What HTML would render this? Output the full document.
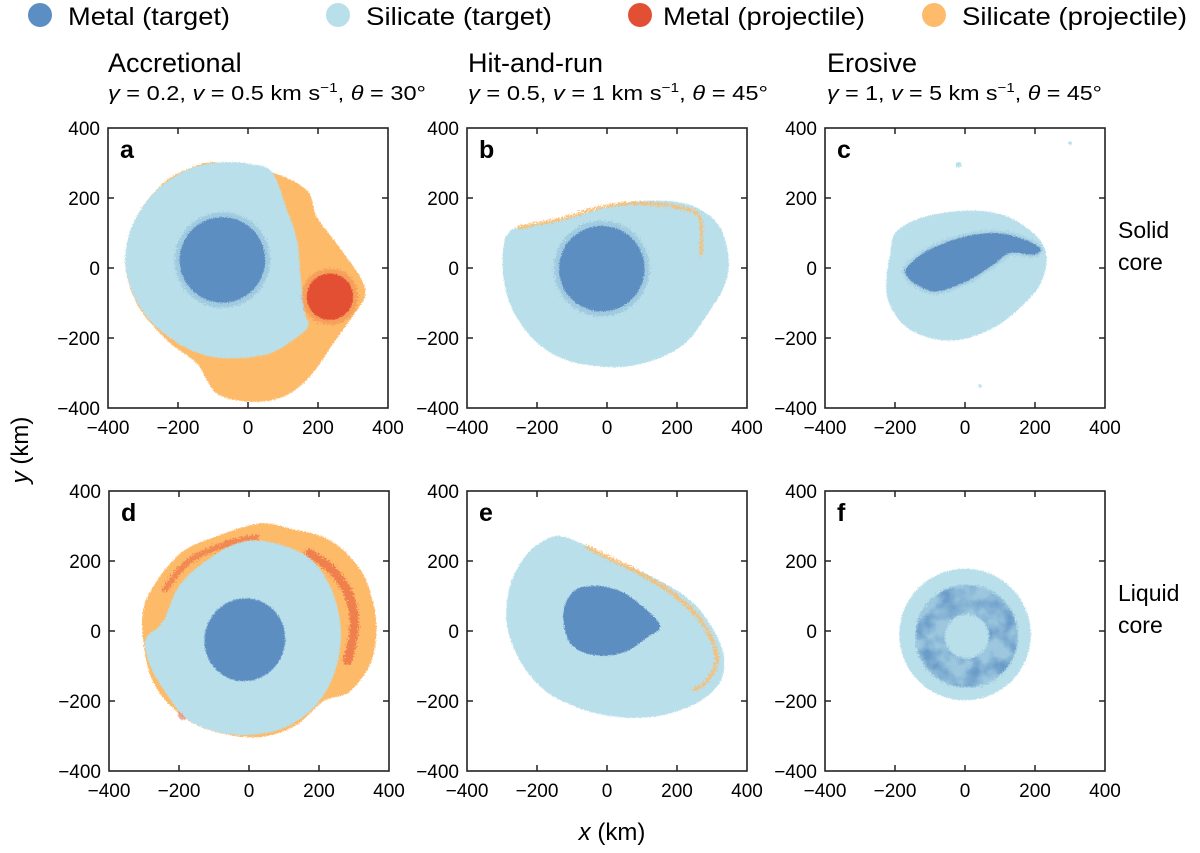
<!DOCTYPE html>
<html><head><meta charset="utf-8"><style>
html,body{margin:0;padding:0;background:#fff}
svg{display:block;font-family:"Liberation Sans",Arial,sans-serif}
</style></head><body>
<svg id="fig" width="1200" height="853" viewBox="0 0 1200 853">
<defs>
<filter id="rough" x="-10%" y="-10%" width="120%" height="120%">
<feTurbulence type="fractalNoise" baseFrequency="0.9" numOctaves="2" seed="3" result="n"/>
<feDisplacementMap in="SourceGraphic" in2="n" scale="4" xChannelSelector="R" yChannelSelector="G"/>
</filter>
<filter id="grain" x="-20%" y="-20%" width="140%" height="140%">
<feTurbulence type="fractalNoise" baseFrequency="0.6" numOctaves="2" seed="7" result="n"/>
<feDisplacementMap in="SourceGraphic" in2="n" scale="9" xChannelSelector="R" yChannelSelector="G"/>
</filter>
<filter id="patchy" x="-20%" y="-20%" width="140%" height="140%">
<feTurbulence type="fractalNoise" baseFrequency="0.05" numOctaves="3" seed="11" result="t"/>
<feColorMatrix in="t" type="matrix" values="0 0 0 0 0  0 0 0 0 0  0 0 0 0 0  0 0 0 2.6 -1.0" result="mask"/>
<feComposite in="SourceGraphic" in2="mask" operator="in" result="c"/>
<feTurbulence type="fractalNoise" baseFrequency="0.8" numOctaves="1" seed="5" result="n"/>
<feDisplacementMap in="c" in2="n" scale="5" xChannelSelector="R" yChannelSelector="G"/>
</filter>
</defs>
<g>
<g><circle cx="40" cy="15" r="12" fill="#5b8ec2"/><text x="68" y="25" font-size="25" textLength="162" lengthAdjust="spacingAndGlyphs">Metal (target)</text></g>
<g><circle cx="338" cy="15" r="12" fill="#b8dfea"/><text x="366" y="25" font-size="25" textLength="186" lengthAdjust="spacingAndGlyphs">Silicate (target)</text></g>
<g><circle cx="640" cy="15" r="12" fill="#e34f33"/><text x="663" y="25" font-size="25" textLength="202" lengthAdjust="spacingAndGlyphs">Metal (projectile)</text></g>
<g><circle cx="934" cy="15" r="12" fill="#fdbb6b"/><text x="962" y="25" font-size="25" textLength="225" lengthAdjust="spacingAndGlyphs">Silicate (projectile)</text></g>
</g>
<g>
<text x="108" y="72" font-size="27">Accretional</text>
<text x="108" y="100" font-size="20" textLength="318" lengthAdjust="spacingAndGlyphs"><tspan font-style="italic">γ</tspan> = 0.2, <tspan font-style="italic">v</tspan> = 0.5 km s<tspan font-size="13" dy="-8">−1</tspan><tspan dy="8">, </tspan><tspan font-style="italic">θ</tspan> = 30°</text>
<text x="468" y="72" font-size="27">Hit-and-run</text>
<text x="468" y="100" font-size="20" textLength="300" lengthAdjust="spacingAndGlyphs"><tspan font-style="italic">γ</tspan> = 0.5, <tspan font-style="italic">v</tspan> = 1 km s<tspan font-size="13" dy="-8">−1</tspan><tspan dy="8">, </tspan><tspan font-style="italic">θ</tspan> = 45°</text>
<text x="827" y="72" font-size="27">Erosive</text>
<text x="827" y="100" font-size="20" textLength="275" lengthAdjust="spacingAndGlyphs"><tspan font-style="italic">γ</tspan> = 1, <tspan font-style="italic">v</tspan> = 5 km s<tspan font-size="13" dy="-8">−1</tspan><tspan dy="8">, </tspan><tspan font-style="italic">θ</tspan> = 45°</text>
</g>
<g>
<text x="1118" y="238" font-size="23"><tspan x="1118">Solid</tspan><tspan x="1118" dy="32">core</tspan></text>
<text x="1118" y="601" font-size="23"><tspan x="1118">Liquid</tspan><tspan x="1118" dy="32">core</tspan></text>
</g>
<text transform="translate(28,450) rotate(-90)" text-anchor="middle" font-size="24"><tspan font-style="italic">y</tspan> (km)</text>
<text x="612" y="840" text-anchor="middle" font-size="24"><tspan font-style="italic">x</tspan> (km)</text>
<g id="panels"></g>
</svg>
<script>
// ---- data (km coordinates) ----
const tickValues = [-400, -200, 0, 200, 400];
const tickLabels = ["−400", "−200", "0", "200", "400"];
const panelIds = ["a", "b", "c", "d", "e", "f"];

const aSilProj = [[-166,285],[-90,302],[63,275],[167,223],[196,147],[253,70],[320,-25],[334,-82],[291,-149],[244,-215],[177,-310],[101,-368],[6,-382],[-90,-358],[-147,-272],[-232,-206],[-318,-101],[-351,23],[-318,147],[-242,242]];
const aSilTarg = [[68,275],[110,170],[140,80],[150,-20],[160,-120],[172,-165],[130,-205],[60,-245],[-30,-258],[-120,-250],[-200,-215],[-280,-150],[-330,-70],[-351,20],[-335,110],[-290,190],[-220,255],[-140,292],[-70,302],[0,298]];
const aMetTarg = [-73, 23, 128];
const aMetProj = [234, -82, 72];

const bSilTarg = [[-252,116],[-133,138],[0,176],[86,190],[190,190],[267,167],[324,114],[348,19],[333,-57],[286,-133],[229,-210],[152,-257],[57,-281],[-19,-281],[-105,-267],[-181,-229],[-238,-171],[-276,-105],[-297,-19],[-295,67],[-281,100]];
const bMetTarg = [-15, -2, 128];
const bStreak = [[-252,116],[-133,140],[0,178],[120,184],[220,170],[262,150],[270,100],[268,40]];

const cSilTarg = [[-195,105],[-110,148],[14,164],[119,148],[205,90],[233,29],[214,-48],[157,-114],[81,-171],[-14,-205],[-100,-200],[-176,-162],[-219,-95],[-224,-29],[-214,38]];
const cMetTarg = [[-167,0],[-110,48],[-14,86],[81,100],[157,86],[214,57],[195,38],[129,43],[81,10],[5,-38],[-81,-67],[-138,-48],[-165,-24]];
const cBlobs = [[-19,295,8],[300,357,5],[43,-338,5]];

const dSilProj = [[-303,55],[-265,141],[-189,227],[-84,274],[31,307],[116,293],[230,260],[316,179],[354,84],[364,-11],[345,-97],[288,-173],[211,-202],[135,-269],[40,-302],[-55,-297],[-150,-269],[-227,-211],[-274,-145],[-298,-59]];
const dSilTarg = [[-295,-23],[-246,27],[-198,131],[-112,208],[-17,255],[78,250],[173,208],[230,131],[259,36],[259,-59],[230,-154],[173,-230],[97,-278],[2,-297],[-93,-288],[-179,-250],[-240,-173],[-283,-97]];
const dMetTarg = [-12, -25, 115, 119];
const dRedRight = [[173,222],[240,172],[290,92],[300,4],[282,-85]];
const dRedLeft = [[-240,120],[-170,200],[-60,250],[21,268]];
const dRedDot = [-189, -240, 14];

const eSilTarg = [[-133,271],[-57,243],[10,205],[114,162],[229,95],[295,19],[333,-67],[324,-143],[267,-200],[171,-238],[76,-248],[-19,-238],[-105,-210],[-181,-167],[-248,-86],[-286,19],[-276,133],[-229,219],[-181,257]];
const eMetTarg = [[-124,57],[-95,114],[-38,129],[38,114],[105,67],[152,14],[114,-19],[57,-57],[-10,-71],[-76,-57],[-114,-19]];
const eStreak = [[-57,240],[10,207],[114,154],[200,97],[276,19],[314,-76],[286,-143],[248,-167]];

const fSilTarg = [0, -10, 188];
const fRing = [5, -15, 105];

// ---- layout ----
const origins = {a:[108,128], b:[467,128], c:[825,128], d:[109,491], e:[467,491], f:[825,491]};
const K = 0.35;
const COL = {mt:"#5b8ec2", st:"#b8dfea", mp:"#e34f33", sp:"#fdbb6b"};
const NS = "http://www.w3.org/2000/svg";
const root = document.getElementById("panels");

function mk(tag, attrs, parent){
  const e = document.createElementNS(NS, tag);
  for (const k in attrs) e.setAttribute(k, attrs[k]);
  parent.appendChild(e);
  return e;
}
function sx(id, v){ return origins[id][0] + (v + 400) * K; }
function sy(id, v){ return origins[id][1] + (400 - v) * K; }

function smoothPath(id, pts, closed){
  const P = pts.map(p => [sx(id,p[0]), sy(id,p[1])]);
  const n = P.length;
  let d = "M" + P[0][0].toFixed(1) + "," + P[0][1].toFixed(1);
  const last = closed ? n : n - 1;
  for (let i = 0; i < last; i++){
    const p0 = P[(i - 1 + n) % n], p1 = P[i], p2 = P[(i + 1) % n], p3 = P[(i + 2) % n];
    const q0 = (!closed && i === 0) ? p1 : p0;
    const q3 = (!closed && i + 2 >= n) ? p2 : p3;
    const c1 = [p1[0] + (p2[0] - q0[0]) / 6, p1[1] + (p2[1] - q0[1]) / 6];
    const c2 = [p2[0] - (q3[0] - p1[0]) / 6, p2[1] - (q3[1] - p1[1]) / 6];
    d += " C" + c1.map(v=>v.toFixed(1)).join(",") + " " + c2.map(v=>v.toFixed(1)).join(",") + " " + p2[0].toFixed(1) + "," + p2[1].toFixed(1);
  }
  if (closed) d += "Z";
  return d;
}

function area(g, id, pts, fill, name){
  const e = mk("path", {d: smoothPath(id, pts, true), fill: fill, filter: "url(#rough)"}, g);
  
  
  return e;
}
function streak(g, id, pts, color, w, op, name){
  const e = mk("path", {d: smoothPath(id, pts, false), fill: "none", stroke: color, "stroke-width": w, "stroke-opacity": op, "stroke-linecap": "round", filter: "url(#grain)"}, g);
  
  
  return e;
}
function blob(g, id, c, color, name, halo){
  if (halo){
    const h = mk("circle", {cx: sx(id,c[0]), cy: sy(id,c[1]), r: c[2]*K + 3, fill: color, opacity: 0.25, filter: "url(#grain)"}, g);
    
    
  }
  const e = mk("circle", {cx: sx(id,c[0]), cy: sy(id,c[1]), r: c[2]*K - (halo ? 2 : 0), fill: color, filter: "url(#rough)"}, g);
  
  
  return e;
}

function axes(g, id){
  const [x0, y0] = origins[id];
  const W = 800 * K;
  tickValues.forEach((v, i) => {
    if (Math.abs(v) < 400){
      const X = sx(id, v), Y = sy(id, v);
      mk("line", {x1:X, y1:y0+W, x2:X, y2:y0+W-6, stroke:"#222", "stroke-width":1.5}, g);
      mk("line", {x1:X, y1:y0, x2:X, y2:y0+6, stroke:"#222", "stroke-width":1.5}, g);
      mk("line", {x1:x0, y1:Y, x2:x0+6, y2:Y, stroke:"#222", "stroke-width":1.5}, g);
      mk("line", {x1:x0+W, y1:Y, x2:x0+W-6, y2:Y, stroke:"#222", "stroke-width":1.5}, g);
    }
    const yl = mk("text", {x: x0 - 8, y: sy(id, v) + 7, "text-anchor": "end", "font-size": 19}, g);
    yl.textContent = tickLabels[i];
    
    
    const xl = mk("text", {x: sx(id, v), y: y0 + W + 26, "text-anchor": "middle", "font-size": 19}, g);
    xl.textContent = tickLabels[i];
    
    
  });
  const box = mk("rect", {x:x0, y:y0, width:W, height:W, fill:"none", stroke:"#222", "stroke-width":1.6}, g);
  
  
  const lab = mk("text", {x: x0 + 12, y: y0 + 30, "font-size": 25, "font-weight": "bold"}, g);
  lab.textContent = id;
  
  
}

panelIds.forEach(id => {
  const g = mk("g", {}, root);
  
  
  const [x0, y0] = origins[id];
  const clipId = "clip-" + id;
  const cp = mk("clipPath", {id: clipId}, g);
  mk("rect", {x:x0, y:y0, width:800*K, height:800*K}, cp);
  const m = mk("g", {"clip-path": "url(#" + clipId + ")"}, g);
  
  

  if (id === "a"){
    area(m, id, aSilProj, COL.sp, "silicate-projectile");
    area(m, id, aSilTarg, COL.st, "silicate-target");
    blob(m, id, aMetTarg, COL.mt, "metal-target", true);
    blob(m, id, aMetProj, COL.mp, "metal-projectile", true);
  } else if (id === "b"){
    area(m, id, bSilTarg, COL.st, "silicate-target");
    streak(m, id, bStreak, COL.sp, 3, 0.9, "silicate-projectile-streak");
    blob(m, id, bMetTarg, COL.mt, "metal-target", true);
  } else if (id === "c"){
    area(m, id, cSilTarg, COL.st, "silicate-target");
    const h = mk("path", {d: smoothPath(id, cMetTarg, true), fill: COL.mt, opacity: 0.3, filter: "url(#grain)", stroke: COL.mt, "stroke-width": 6, "stroke-opacity": 0.5}, m);
    
    
    area(m, id, cMetTarg, COL.mt, "metal-target");
    cBlobs.forEach(b => blob(m, id, b, COL.st, "silicate-fragment", false));
  } else if (id === "d"){
    area(m, id, dSilProj, COL.sp, "silicate-projectile");
    streak(m, id, dRedRight, COL.mp, 9, 0.55, "metal-projectile-band");
    streak(m, id, dRedLeft, COL.mp, 6, 0.45, "metal-projectile-band");
    blob(m, id, dRedDot, COL.mp, "metal-projectile-spot", false).setAttribute("opacity", "0.5");
    area(m, id, dSilTarg, COL.st, "silicate-target");
    const e = mk("ellipse", {cx: sx(id,dMetTarg[0]), cy: sy(id,dMetTarg[1]), rx: dMetTarg[2]*K, ry: dMetTarg[3]*K, fill: COL.mt, filter: "url(#rough)", transform: "rotate(20 " + sx(id,dMetTarg[0]) + " " + sy(id,dMetTarg[1]) + ")"}, m);
    
    
  } else if (id === "e"){
    area(m, id, eSilTarg, COL.st, "silicate-target");
    streak(m, id, eStreak, COL.sp, 3.5, 0.9, "silicate-projectile-streak");
    area(m, id, eMetTarg, COL.mt, "metal-target");
  } else if (id === "f"){
    blob(m, id, fSilTarg, COL.st, "silicate-target", false);
    const r0 = mk("circle", {cx: sx(id,fRing[0]), cy: sy(id,fRing[1]), r: fRing[2]*K, fill: "none", stroke: COL.mt, "stroke-width": 30, "stroke-opacity": 0.3, filter: "url(#grain)"}, m);
    
    
    const r = mk("circle", {cx: sx(id,fRing[0]), cy: sy(id,fRing[1]), r: fRing[2]*K, fill: "none", stroke: COL.mt, "stroke-width": 28, "stroke-opacity": 0.75, filter: "url(#patchy)"}, m);
    
    
  }
  axes(g, id);
});
</script>
</body></html>
